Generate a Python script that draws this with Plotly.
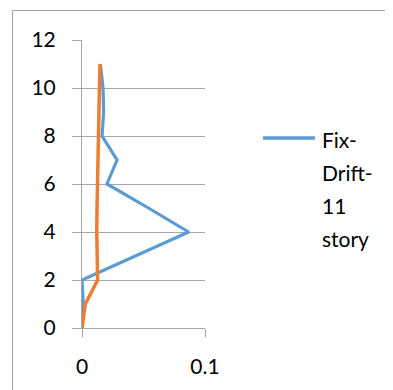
import plotly.graph_objects as go

stories = [0, 1, 2, 3, 4, 5, 6, 7, 8, 9, 10, 11]
fix_drift = [0.0, 0.001, 0.0, 0.044, 0.0867, 0.054, 0.0203, 0.0285, 0.0163, 0.0176, 0.0171, 0.0149]
other_drift = [0.0, 0.0027, 0.0127, 0.0121, 0.0120, 0.0122, 0.0125, 0.0130, 0.0138, 0.0141, 0.0144, 0.0146]
series_label_lines = ["Fix-", "Drift-", "11", "story"]
x_ticks = [0, 0.1]
x_tick_text = ["0", "0.1"]
y_ticks = [0, 2, 4, 6, 8, 10, 12]

BLUE = "#5B9BD5"
ORANGE = "#ED7D31"
GRID = "#A6A6A6"
FONT = "Lato"

fig = go.Figure()
fig.add_trace(go.Scatter(x=fix_drift, y=stories, mode="lines", name="Fix-Drift-11 story",
                         line=dict(color=BLUE, width=3.2), showlegend=False))
fig.add_trace(go.Scatter(x=other_drift, y=stories, mode="lines", name="series 2",
                         line=dict(color=ORANGE, width=3.5), showlegend=False))

OFF = 8  # page body margin
W, H = 393 - OFF, 390 - OFF
L, T = 82 - OFF, 40 - OFF
R = W - (205 - OFF)
B = H - (328 - OFF)
pw, ph = W - L - R, H - T - B

def px_x(p):
    return (p - OFF - L) / pw

def px_y(p):
    return (H - B - (p - OFF)) / ph

shapes = [
    dict(type="line", xref="paper", yref="paper",
         x0=px_x(12.5), x1=px_x(420), y0=px_y(10.5), y1=px_y(10.5),
         line=dict(color="#A0A0A0", width=1), layer="above"),
    dict(type="line", xref="paper", yref="paper",
         x0=px_x(12.5), x1=px_x(12.5), y0=px_y(10.5), y1=px_y(420),
         line=dict(color="#A0A0A0", width=1), layer="above"),
    dict(type="line", xref="paper", yref="paper",
         x0=px_x(263), x1=px_x(315), y0=px_y(138), y1=px_y(138),
         line=dict(color=BLUE, width=3.5), layer="above"),
]

annotations = []
for i, t in enumerate(series_label_lines):
    annotations.append(dict(xref="paper", yref="paper", x=px_x(320), y=px_y(139 + 33 * i),
                            xanchor="left", yanchor="middle", text=t, showarrow=False,
                            font=dict(family=FONT, size=21, color="#000000")))

fig.update_layout(
    width=W, height=H,
    margin=dict(l=L, r=R, t=T, b=B),
    paper_bgcolor="white", plot_bgcolor="white",
    font=dict(family=FONT, size=21, color="#000000"),
    shapes=shapes, annotations=annotations,
    xaxis=dict(range=[0, 0.1], tickvals=x_ticks, ticktext=x_tick_text,
               showgrid=False, zeroline=False, showline=True, linecolor=GRID, linewidth=1,
               ticks="outside", ticklen=8, tickcolor=GRID, ticklabelstandoff=12,
               fixedrange=True),
    yaxis=dict(range=[0, 12], tickvals=y_ticks, showgrid=True, gridcolor=GRID, gridwidth=1,
               zeroline=False, showline=True, linecolor=GRID, linewidth=1,
               ticks="outside", ticklen=9, tickcolor=GRID, ticklabelstandoff=12,
               fixedrange=True),
)

fig.write_html("out.html")
